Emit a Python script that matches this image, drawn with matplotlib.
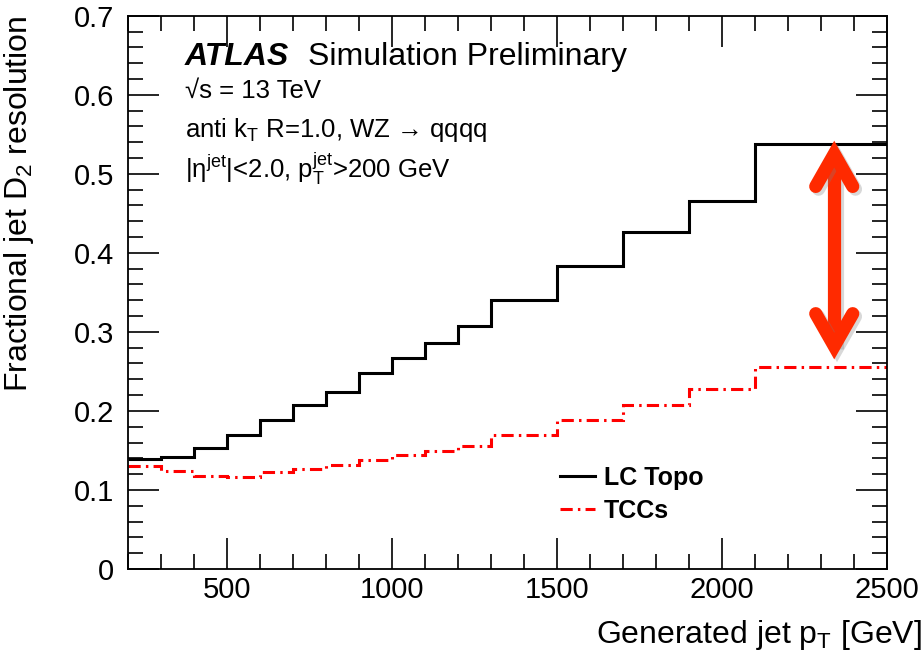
import matplotlib
matplotlib.use("Agg")
import matplotlib.pyplot as plt
import matplotlib.patheffects as pe
from matplotlib.ticker import MultipleLocator
import numpy as np

plt.rcParams["font.family"] = ["Liberation Sans", "DejaVu Sans"]
plt.rcParams["mathtext.fontset"] = "custom"
plt.rcParams["mathtext.rm"] = "Liberation Sans"
plt.rcParams["mathtext.it"] = "Liberation Sans:italic"
plt.rcParams["mathtext.bf"] = "Liberation Sans:bold"

# bin edges in generated jet pT [GeV]
edges = [200, 300, 400, 500, 600, 700, 800, 900, 1000, 1100, 1200, 1300,
         1500, 1700, 1900, 2100, 2500]
lc_topo = [0.139, 0.142, 0.153, 0.169, 0.189, 0.208, 0.224, 0.248, 0.267,
           0.286, 0.307, 0.340, 0.383, 0.426, 0.465, 0.538]
tccs = [0.130, 0.124, 0.118, 0.116, 0.123, 0.127, 0.132, 0.138, 0.144,
        0.149, 0.156, 0.169, 0.188, 0.207, 0.228, 0.256]
arrow_x = 2340
ARROW = "#ff2a00"

fig = plt.figure(figsize=(9.24, 6.65), dpi=100)
ax = fig.add_axes([0.1385, 0.1444, 0.8215, 0.832])

ax.stairs(lc_topo, edges, color="black", linewidth=2.2, baseline=None,
          label="LC Topo")
ax.stairs(tccs, edges, color="#ff0000", linewidth=2.2, baseline=None,
          linestyle=(0, (4, 1.7, 0.8, 1.7)), label="TCCs")

# big double arrow marking the gap between the two in the last bin
top, bot = lc_topo[-1] - 0.013, tccs[-1] + 0.026
hx, hy = 56, 0.041
shadow = [pe.SimpleLineShadow(offset=(2, -2), alpha=0.3, shadow_color="gray"),
          pe.Normal()]
ax.plot([arrow_x, arrow_x], [top, bot], color=ARROW, linewidth=9.5,
        solid_capstyle="butt", path_effects=shadow, zorder=5)
for tip, sgn in ((top, -1), (bot, 1)):
    ax.plot([arrow_x - hx, arrow_x, arrow_x + hx],
            [tip + sgn * hy, tip, tip + sgn * hy], color=ARROW,
            linewidth=9.5, solid_capstyle="round", solid_joinstyle="miter",
            path_effects=shadow, zorder=5)

ax.set_xlim(200, 2500)
ax.set_ylim(0, 0.7)
ax.xaxis.set_major_locator(MultipleLocator(500))
ax.xaxis.set_minor_locator(MultipleLocator(100))
ax.yaxis.set_minor_locator(MultipleLocator(0.02))
ax.set_yticks(np.arange(0, 0.71, 0.1))
ax.set_yticklabels(["0", "0.1", "0.2", "0.3", "0.4", "0.5", "0.6", "0.7"])
ax.tick_params(which="both", direction="in", top=True, right=True,
               labelsize=21, width=1.2)
ax.tick_params(axis="x", pad=5)
ax.tick_params(axis="y", pad=10)
ax.tick_params(which="major", length=22)
ax.tick_params(which="minor", length=11)
for s in ax.spines.values():
    s.set_linewidth(1.3)

ax.set_xlabel(r"Generated jet p$_{\mathrm{T}}$ [GeV]", fontsize=23,
              ha="right", va="baseline")
ax.xaxis.set_label_coords(1.046, -0.134)
ax.set_ylabel(r"Fractional jet D$_{2}$ resolution", fontsize=23,
              ha="right", va="center")
ax.yaxis.set_label_coords(-0.143, 1.0)

tx = 0.075
ax.text(tx, 0.911, "ATLAS", transform=ax.transAxes, fontsize=23,
        fontweight="bold", style="italic")
ax.text(0.237, 0.911, "Simulation Preliminary", transform=ax.transAxes,
        fontsize=23)
ax.text(tx, 0.852, "√s = 13 TeV", transform=ax.transAxes, fontsize=18.5)
ax.text(tx, 0.781, r"anti k$_{\mathrm{T}}$ R=1.0, WZ → qqqq",
        transform=ax.transAxes, fontsize=18.5)
ax.text(tx, 0.707,
        r"|$\mathrm{\eta}^{\mathrm{jet}}$|<2.0, p$_{\mathrm{T}}^{\mathrm{jet}}$>200 GeV",
        transform=ax.transAxes, fontsize=18.5)

ax.legend(loc="upper left", bbox_to_anchor=(0.569, 0.186), frameon=False,
          prop={"weight": "bold", "size": 18}, handlelength=1.4,
          handletextpad=0.35, labelspacing=0.35, borderpad=0,
          borderaxespad=0)

fig.savefig("out.png", dpi=100)
